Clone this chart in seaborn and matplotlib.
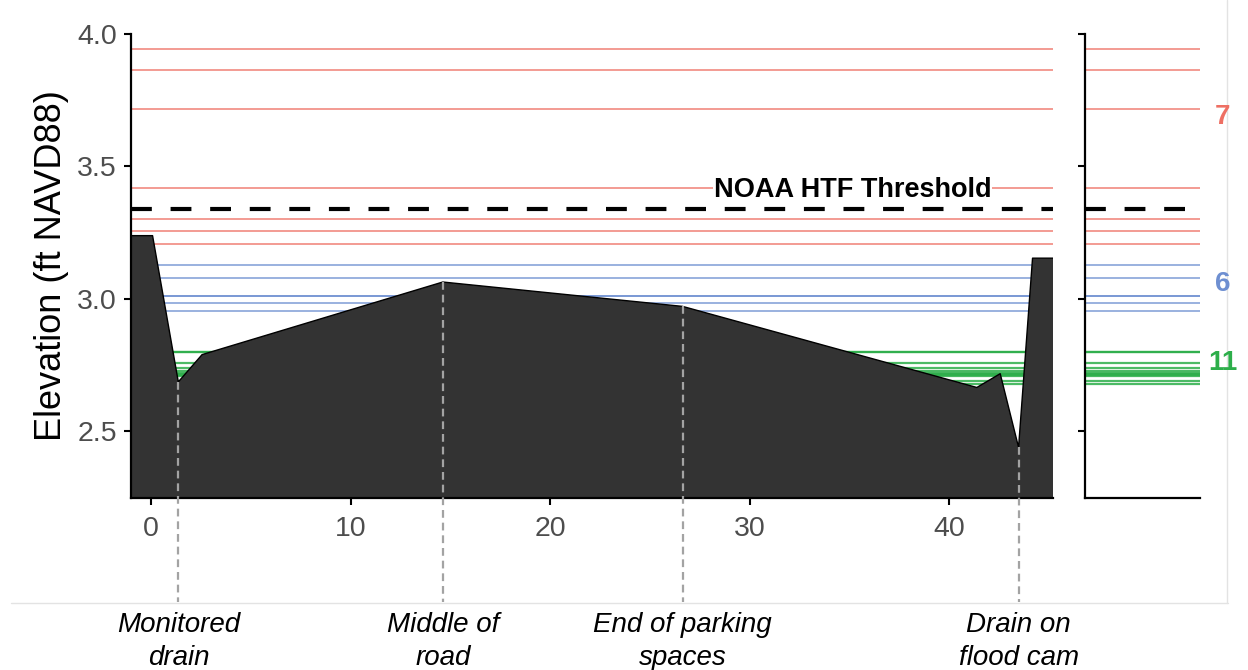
import numpy as np
import matplotlib
matplotlib.use("Agg")
import matplotlib.pyplot as plt
from matplotlib.lines import Line2D
import seaborn as sns

# Ground profile along the transect (distance in ft, elevation in ft NAVD88)
profile_x = [-1.0, 0.08, 1.37, 2.56, 14.62, 26.63, 41.37, 42.54, 43.46, 44.16, 45.2]
profile_y = [3.239, 3.239, 2.687, 2.790, 3.064, 2.972, 2.666, 2.718, 2.440, 3.154, 3.154]

# Observed water levels, grouped by category
red_levels = [3.942, 3.864, 3.716, 3.417, 3.301, 3.258, 3.208]
blue_levels = [3.129, 3.081, 3.013, 3.013, 2.986, 2.953]
green_levels = [2.798, 2.798, 2.757, 2.741, 2.727, 2.722, 2.718, 2.714, 2.711, 2.692, 2.679]
count_label_y = [3.688, 3.056, 2.758]

htf_threshold = 3.34
htf_label = "NOAA HTF Threshold"

landmark_x = [1.37, 14.62, 26.63, 43.46]
landmark_labels = ["Monitored\ndrain", "Middle of\nroad", "End of parking\nspaces", "Drain on\nflood cam"]

x_ticks = [0, 10, 20, 30, 40]
y_ticks = [2.5, 3.0, 3.5, 4.0]

RED, BLUE, GREEN = "#EE6F63", "#6E8FD1", "#2DAE4A"
groups = [(red_levels, RED, 1.3, 0.75), (blue_levels, BLUE, 1.3, 0.75),
          (green_levels, GREEN, 1.6, 0.85)]

sns.set_theme(style="white")
plt.rcParams["font.family"] = ["Liberation Sans", "DejaVu Sans"]

W, H = 1248, 670
fig = plt.figure(figsize=(W / 100, H / 100), dpi=100)
ax_top, ax_bot = 34, 497.7
ax = fig.add_axes([131 / W, 1 - ax_bot / H, (1053.3 - 131) / W, (ax_bot - ax_top) / H])
ax2 = fig.add_axes([1085 / W, 1 - ax_bot / H, (1200 - 1085) / W, (ax_bot - ax_top) / H])

ylim = (2.25, 4.0)
dash = (0, (5, 4.5))

# Main panel: water levels behind the ground profile
for levels, col, lw, a in groups:
    for lv in levels:
        ax.axhline(lv, color=col, lw=lw, alpha=a, zorder=1)

ax.fill_between(profile_x, profile_y, 0, color="#333333", lw=0, zorder=2)
sns.lineplot(x=profile_x, y=profile_y, ax=ax, color="black", lw=1.0,
             sort=False, estimator=None, zorder=3)

ax.axhline(htf_threshold, color="black", lw=3, ls=dash, zorder=4)
ax.text(35.15, 3.386, htf_label, ha="center", va="baseline", fontsize=19.5,
        fontweight="bold", color="black", zorder=5,
        bbox=dict(facecolor="white", edgecolor="none", pad=0.3))

# Landmarks along the transect
landmark_y = np.interp(landmark_x, profile_x, profile_y)
for lx, ly, lab in zip(landmark_x, landmark_y, landmark_labels):
    ax.plot([lx, lx], [ly, 1.858], color="#A3A3A3", lw=1.6, ls=(0, (3.5, 2.2)),
            clip_on=False, zorder=3.5)
    ax.text(lx, 1.708, lab, ha="center", va="center", fontsize=20, style="italic",
            color="black", clip_on=False, linespacing=1.38)

ax.set_xlim(-1.0, 45.2)
ax.set_ylim(*ylim)
ax.set_xticks(x_ticks)
ax.set_xticklabels([str(t) for t in x_ticks])
ax.set_yticks(y_ticks)
ax.set_yticklabels([f"{t:.1f}" for t in y_ticks])
ax.tick_params(axis="both", bottom=True, left=True, direction="out", length=5,
               width=1.5, color="black", labelsize=20.5, labelcolor="#4D4D4D")
ax.tick_params(axis="x", pad=8)
ax.tick_params(axis="y", pad=5)
ax.set_ylabel("Elevation (ft NAVD88)", fontsize=26, color="black", labelpad=6)
ax.set_xlabel("")
for side in ["top", "right"]:
    ax.spines[side].set_visible(False)
for side in ["left", "bottom"]:
    ax.spines[side].set_color("black")
    ax.spines[side].set_linewidth(1.6)

# Side panel: the levels alone, with counts per category
for (levels, col, lw, a), ly in zip(groups, count_label_y):
    for lv in levels:
        ax2.axhline(lv, color=col, lw=lw, alpha=a, zorder=1)
    ax2.text(1.2, ly, str(len(levels)), color=col, fontsize=20, fontweight="bold",
             ha="center", va="center", clip_on=False)
ax2.axhline(htf_threshold, color="black", lw=3, ls=dash, zorder=4)
ax2.set_xlim(0, 1)
ax2.set_ylim(*ylim)
ax2.set_yticks(y_ticks)
ax2.set_yticklabels([])
ax2.set_xticks([])
ax2.tick_params(axis="y", left=True, direction="out", length=5, width=1.5, color="black")
for side in ["top", "right"]:
    ax2.spines[side].set_visible(False)
for side in ["left", "bottom"]:
    ax2.spines[side].set_color("black")
    ax2.spines[side].set_linewidth(1.6)

# Light outer frame, kept beneath the panels and labels
fig.add_artist(Line2D([11 / W, 1228 / W], [1 - 602.5 / H] * 2, color="#E3E3E3",
                      lw=1, zorder=-1))
fig.add_artist(Line2D([1227 / W] * 2, [1 - 602.5 / H, 1], color="#E3E3E3",
                      lw=1, zorder=-1))

fig.savefig("out.png", dpi=100)
